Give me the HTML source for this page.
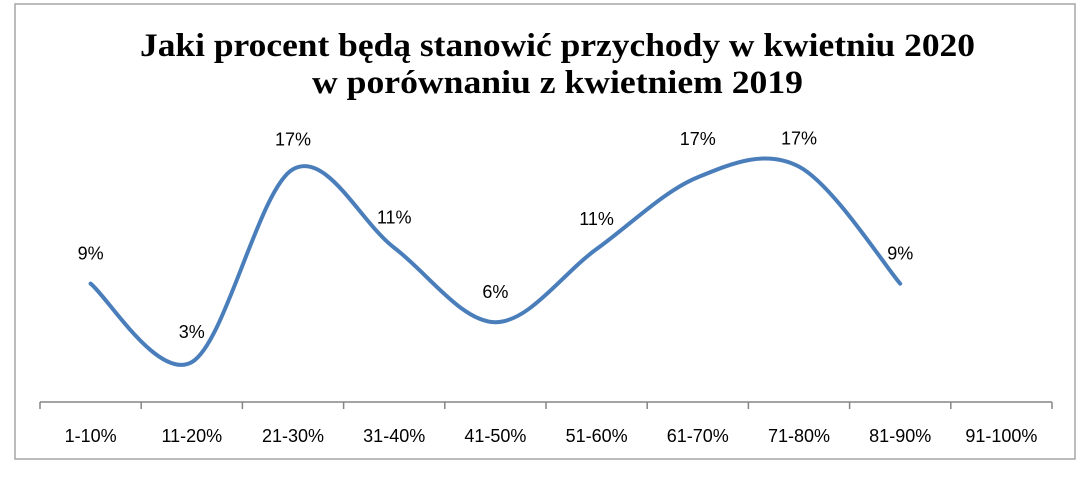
<!DOCTYPE html>
<html><head><meta charset="utf-8"><style>
body{margin:0;background:#fff;width:1086px;height:477px;overflow:hidden}
svg{display:block}
</style></head><body>
<svg id="chart" width="1086" height="477">
<rect x="15" y="4" width="1060" height="455" fill="#fff" stroke="#a6a6a6" stroke-width="1.5"/>
<text x="140" y="56" textLength="835" lengthAdjust="spacingAndGlyphs" font-family="'Liberation Serif',serif" font-weight="bold" font-size="33">Jaki procent  będą stanowić przychody w kwietniu 2020</text>
<text x="312" y="93" textLength="491" lengthAdjust="spacingAndGlyphs" font-family="'Liberation Serif',serif" font-weight="bold" font-size="33">w porównaniu z kwietniem 2019</text>
<g id="axis"></g><g id="series"></g><g id="labels"></g>
</svg>
<script>
const categories=["1-10%","11-20%","21-30%","31-40%","41-50%","51-60%","61-70%","71-80%","81-90%","91-100%"];
const values=[8.9,3.0,17.5,11.6,6.0,11.5,16.9,17.7,8.9];
const valueLabels=["9%","3%","17%","11%","6%","11%","17%","17%","9%"];
const labelOffsets=[24,24,24,24,24,24,32,22,24];
const NS="http://www.w3.org/2000/svg";
const x0=40,x1=1052,yBase=402,scale=13.3;
const bw=(x1-x0)/categories.length;
const xs=i=>x0+bw*(i+0.5);
const ys=v=>yBase-v*scale;
function mk(tag,attrs,parent,text){const e=document.createElementNS(NS,tag);for(const k in attrs)e.setAttribute(k,attrs[k]);if(text!==undefined)e.textContent=text;parent.appendChild(e);return e;}
const ax=document.getElementById('axis');
const axl=mk('line',{x1:x0,x2:x1,y1:yBase,y2:yBase,stroke:'#868686','stroke-width':1.5},ax);


for(let i=0;i<=categories.length;i++){
 const t=mk('line',{x1:x0+bw*i,x2:x0+bw*i,y1:yBase,y2:yBase+7,stroke:'#868686','stroke-width':1.5},ax);
 
 
}
categories.forEach((c,i)=>{
 const t=mk('text',{x:xs(i),y:yBase+40,'text-anchor':'middle','font-family':"'Liberation Sans',sans-serif",'font-size':18},ax,c);
 
 
});
const pts=values.map((v,i)=>[xs(i),ys(v)]);
let d=`M${pts[0][0]},${pts[0][1]}`;
for(let i=0;i<pts.length-1;i++){
 const p0=pts[i-1]||pts[i],p1=pts[i],p2=pts[i+1],p3=pts[i+2]||p2;
 const t=1/6;
 d+=` C${p1[0]+(p2[0]-p0[0])*t},${p1[1]+(p2[1]-p0[1])*t} ${p2[0]-(p3[0]-p1[0])*t},${p2[1]-(p3[1]-p1[1])*t} ${p2[0]},${p2[1]}`;
}
const line=mk('path',{d:d,fill:'none',stroke:'#4a7ebb','stroke-width':4,'stroke-linecap':'round'},document.getElementById('series'));


const lg=document.getElementById('labels');
values.forEach((v,i)=>{
 const t=mk('text',{x:xs(i),y:ys(v)-labelOffsets[i],'text-anchor':'middle','font-family':"'Liberation Sans',sans-serif",'font-size':18},lg,valueLabels[i]);
 
 
});
</script>
</body></html>
